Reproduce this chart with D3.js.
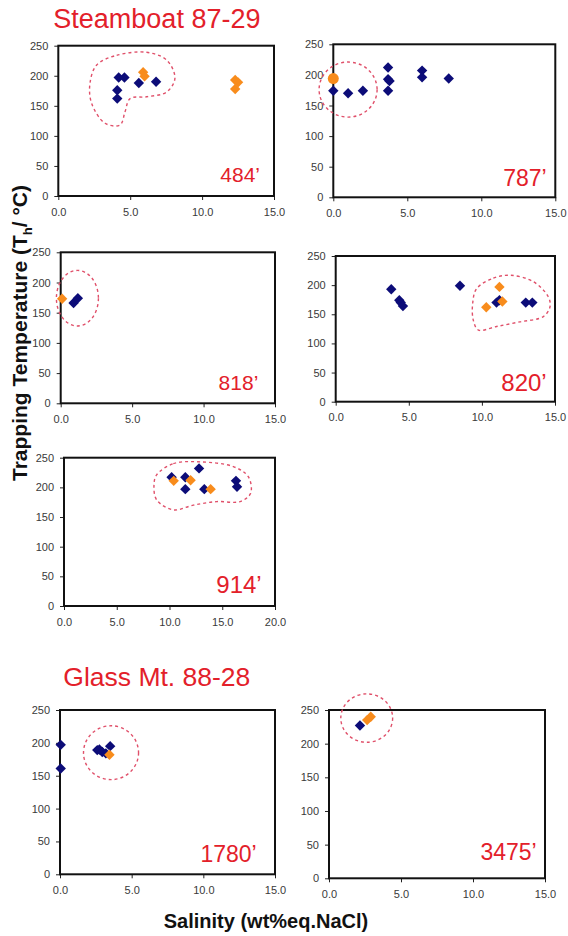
<!DOCTYPE html>
<html><head><meta charset="utf-8">
<script src="https://cdn.jsdelivr.net/npm/d3@7"></script>
<style>body{margin:0;background:#fff} svg{display:block}</style>
</head><body>
<script>
// ---------------- data ----------------
const wellTitles = ["Steamboat 87-29", "Glass Mt. 88-28"];
const depthLabels = ["484\u2019", "787\u2019", "818\u2019", "820\u2019", "914\u2019", "1780\u2019", "3475\u2019"];
const tempTicks = [0, 50, 100, 150, 200, 250];
const salTicks15 = [0, 5, 10, 15];
const salTicks20 = [0, 5, 10, 15, 20];
const yAxisTitle = ["Trapping Temperature (T", "h", "/ \u00b0C)"];
const xAxisTitle = "Salinity (wt%eq.NaCl)";

// points: [salinity, temperature]
const navy484 = [[4.1,162],[4.1,176],[4.2,197],[4.6,197],[5.6,188],[6.8,190]];
const orange484 = [[5.9,206],[6.0,199],[12.3,193],[12.5,189],[12.3,178]];
const navy787 = [[0.0,174],[1.0,170],[2.0,174],[3.7,212],[3.7,193],[3.8,190],[3.7,174],[6.0,207],[6.0,196],[7.8,194]];
const orange787 = [[0.0,194]];
const navy818 = [[0.9,166],[1.2,174]];
const orange818 = [[0.1,173]];
const navy820 = [[3.8,193],[4.35,174],[4.45,170],[4.6,164],[8.5,199],[11.0,170],[11.2,174],[13.0,170],[13.45,170]];
const orange820 = [[10.3,162],[11.2,197],[11.4,172]];
const navy914 = [[10.2,217],[11.5,217],[11.5,197],[12.8,232],[13.3,197],[16.3,211],[16.4,201]];
const orange914 = [[10.4,211],[12.0,212],[13.9,197]];
const navy1780 = [[0.05,197],[0.05,161],[2.6,189],[2.75,190],[2.95,186],[3.2,184],[3.5,195]];
const orange1780 = [[3.45,182]];
const navy3475 = [[2.15,227]];
const orange3475 = [[2.65,235],[2.9,240]];

// dashed outlines (annotation) in data units
const outline484 = [[2.67,218],[4.06,234],[6.14,239],[7.54,226],[8.11,196],[7.54,173],[6.14,165],[4.99,162],[4.64,140],[4.29,118],[3.25,121],[2.32,154],[2.2,187]];
const outline820 = [[9.64,194],[10.78,212],[11.92,217],[13.52,206],[14.54,180],[14.66,163],[14.2,146],[12.6,137],[11.0,129],[9.76,123],[9.41,140],[9.37,169]];
const outline914 = [[8.78,221],[10.36,240],[12.89,243],[16.05,235],[17.47,218],[17.69,190],[16.68,176],[14.47,176],[12.26,170],[10.36,162],[8.78,179],[8.53,204]];
// ellipses: [cx, cy, rx, ry]
const ring787 = [1.0, 176, 1.96, 45];
const ring818 = [1.17, 174, 1.47, 46];
const ring1780 = [3.56, 185, 1.92, 41];
const ring3475 = [2.62, 238, 1.8, 36];

// ---------------- layout ----------------
const W = 568, H = 936;
const RED = "#e3202a", NAVY = "#0c0c78", ORANGE = "#f88c1c", DASH = "#e0506a", TICKCOL = "#3a3a3a";
const FONT = "'Liberation Sans', Arial, sans-serif";

const panels = [
  {navy: navy484, orange: orange484, outline: outline484, label: depthLabels[0], xMax: 15, xTicks: salTicks15, box: [58.3, 45.7, 274, 196], lab: [14, 14.3, 21]},
  {navy: navy787, orangeRound: orange787, ring: ring787, label: depthLabels[1], xMax: 15, xTicks: salTicks15, box: [333.3, 44.3, 555.3, 197.3], lab: [8.6, 11.3, 23]},
  {navy: navy818, orange: orange818, ring: ring818, label: depthLabels[2], xMax: 15, xTicks: salTicks15, box: [60.7, 252.3, 275, 403.3], lab: [16.7, 13.3, 21]},
  {navy: navy820, orange: orange820, outline: outline820, label: depthLabels[3], xMax: 15, xTicks: salTicks15, box: [335.7, 256, 555, 401.7], lab: [8.3, 11, 24]},
  {navy: navy914, orange: orange914, outline: outline914, label: depthLabels[4], xMax: 20, xTicks: salTicks20, box: [64, 457.7, 275, 606], lab: [13.3, 13.3, 24]},
  {navy: navy1780, orange: orange1780, ring: ring1780, label: depthLabels[5], xMax: 15, xTicks: salTicks15, box: [60, 710, 275, 874.3], lab: [18.3, 12.6, 23]},
  {navy: navy3475, orange: orange3475, ring: ring3475, label: depthLabels[6], xMax: 15, xTicks: salTicks15, box: [329, 710, 545, 878.3], lab: [8.3, 18.3, 23]}
];

const svg = d3.select("body").append("svg").attr("width", W).attr("height", H)
  .style("font-family", FONT);

const diamond = d3.symbol().type(d3.symbolDiamond2 || d3.symbolDiamond).size(56);
// square-diamond path
function diamondPath(r) { return `M0,${-r}L${r},0L0,${r}L${-r},0Z`; }

panels.forEach(p => {
  const [x0, y0, x1, y1] = p.box;
  const w = x1 - x0, h = y1 - y0;
  const g = svg.append("g").attr("transform", `translate(${x0},${y0})`);
  const x = d3.scaleLinear().domain([0, p.xMax]).range([0, w]);
  const y = d3.scaleLinear().domain([0, 250]).range([h, 0]);

  const yAx = g.append("g").call(d3.axisLeft(y).tickValues(tempTicks).tickSize(4).tickPadding(6).tickFormat(d3.format("d")));
  const xAx = g.append("g").attr("transform", `translate(0,${h})`)
    .call(d3.axisBottom(x).tickValues(p.xTicks).tickSize(4).tickPadding(8).tickFormat(d3.format(".1f")));
  [yAx, xAx].forEach(a => {
    a.select(".domain").remove();
    a.selectAll("line").attr("stroke", "#222");
    a.selectAll("text").attr("fill", TICKCOL).style("font-size", "11px").style("font-family", FONT);
  });

  g.append("rect").attr("x", 0).attr("y", 0).attr("width", w).attr("height", h)
    .attr("fill", "none").attr("stroke", "#111").attr("stroke-width", 2);

  // dashed annotation
  if (p.outline) {
    g.append("path")
      .attr("d", d3.line().x(d => x(d[0])).y(d => y(d[1])).curve(d3.curveCatmullRomClosed.alpha(0.5))(p.outline))
      .attr("fill", "none").attr("stroke", DASH).attr("stroke-width", 1.4).attr("stroke-dasharray", "3,3");
  }
  if (p.ring) {
    const [cx, cy, rx, ry] = p.ring;
    g.append("ellipse").attr("cx", x(cx)).attr("cy", y(cy))
      .attr("rx", x(cx + rx) - x(cx)).attr("ry", y(cy) - y(cy + ry))
      .attr("fill", "none").attr("stroke", DASH).attr("stroke-width", 1.4).attr("stroke-dasharray", "3,3");
  }

  g.selectAll("path.nv").data(p.navy).join("path").attr("class", "nv")
    .attr("transform", d => `translate(${x(d[0])},${y(d[1])})`)
    .attr("d", diamondPath(5.2)).attr("fill", NAVY);
  if (p.orange) {
    g.selectAll("path.or").data(p.orange).join("path").attr("class", "or")
      .attr("transform", d => `translate(${x(d[0])},${y(d[1])})`)
      .attr("d", diamondPath(5.2)).attr("fill", ORANGE);
  }
  if (p.orangeRound) {
    g.selectAll("circle.or").data(p.orangeRound).join("circle").attr("class", "or")
      .attr("cx", d => x(d[0])).attr("cy", d => y(d[1])).attr("r", 5.5).attr("fill", ORANGE);
  }

  g.append("text").attr("x", w - p.lab[0]).attr("y", h - p.lab[1])
    .attr("text-anchor", "end").attr("fill", RED).style("font-size", p.lab[2] + "px")
    .text(p.label);
});

// titles
svg.append("text").attr("x", 53.3).attr("y", 28).attr("fill", RED).style("font-size", "27px").text(wellTitles[0]);
svg.append("text").attr("x", 63.3).attr("y", 685.5).attr("fill", RED).style("font-size", "26.5px").text(wellTitles[1]);

// axis titles
const yt = svg.append("text").attr("transform", "translate(27,333) rotate(-90)")
  .attr("text-anchor", "middle").attr("fill", "#111").style("font-size", "21px").style("font-weight", "bold");
yt.append("tspan").text(yAxisTitle[0]);
yt.append("tspan").attr("dy", 5).style("font-size", "13px").text(yAxisTitle[1]);
yt.append("tspan").attr("dy", -5).text(yAxisTitle[2]);

svg.append("text").attr("x", 266).attr("y", 928).attr("text-anchor", "middle").attr("fill", "#111")
  .style("font-size", "20px").style("font-weight", "bold").text(xAxisTitle);
</script>
</body></html>
